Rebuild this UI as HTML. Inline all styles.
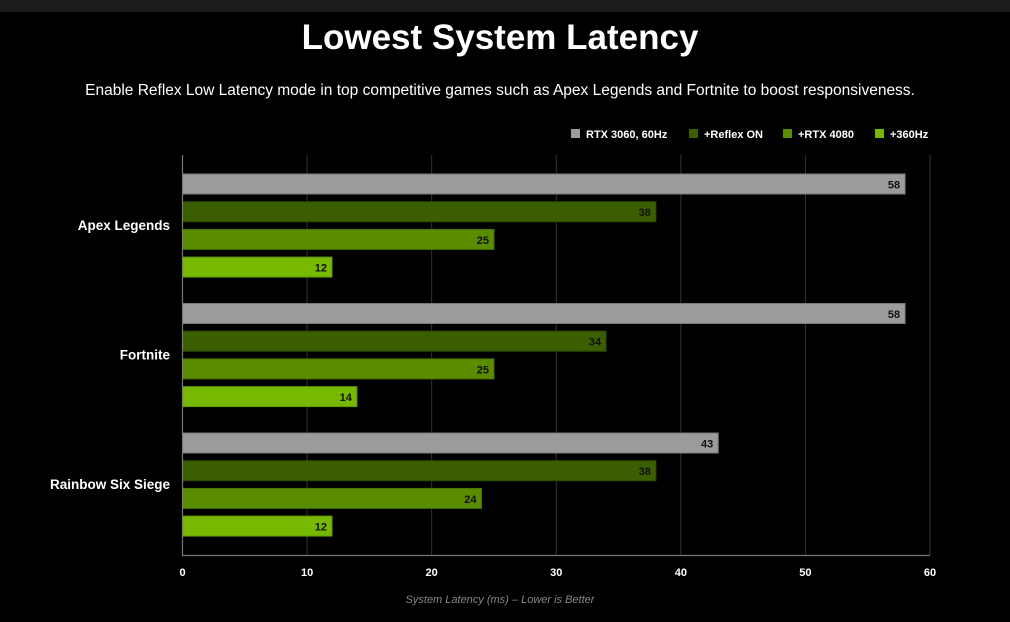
<!DOCTYPE html>
<html><head><meta charset="utf-8"><style>
body{margin:0;background:#000;width:1010px;height:617px;overflow:hidden;font-family:"Liberation Sans",sans-serif}
</style></head><body>
<svg width="1010" height="617" xmlns="http://www.w3.org/2000/svg" id="chart">
<rect x="0" y="0" width="1010" height="12" fill="#1c1c1c"/>
<text x="500" y="49" text-anchor="middle" fill="#fff" font-size="35" font-weight="bold">Lowest System Latency</text>
<text x="500" y="95" text-anchor="middle" fill="#fff" font-size="15.5">Enable Reflex Low Latency mode in top competitive games such as Apex Legends and Fortnite to boost responsiveness.</text>
<g id="legend"></g>
<g id="grid"></g>
<g id="bars"></g>
<g id="axes"></g>
<text x="500" y="603" text-anchor="middle" fill="#888" font-size="11" font-style="italic">System Latency (ms) – Lower is Better</text>
</svg>
<script>
const categories = ["Apex Legends","Fortnite","Rainbow Six Siege"];
const seriesNames = ["RTX 3060, 60Hz","+Reflex ON","+RTX 4080","+360Hz"];
const rtx3060 = [58,58,43];
const reflexOn = [38,34,38];
const rtx4080 = [25,25,24];
const hz360 = [12,14,12];
const xTicks = [0,10,20,30,40,50,60];
const series=[rtx3060,reflexOn,rtx4080,hz360];
const colors=["#9b9b9b","#3b5f00","#5a8c00","#76b900"];
const strokes=["#7a7a7a","#2e4a00","#4a7300","#5f9600"];
const NS="http://www.w3.org/2000/svg";
const x0=182.5,x1=930,xmax=60;
const X=v=>x0+(x1-x0)*v/xmax;
const groupTop=i=>174+129.5*i;
function mk(tag,attrs,parent,text){const e=document.createElementNS(NS,tag);for(const k in attrs)e.setAttribute(k,attrs[k]);if(text!==undefined)e.textContent=text;parent.appendChild(e);return e;}
const grid=document.getElementById('grid'),bars=document.getElementById('bars'),axes=document.getElementById('axes'),legend=document.getElementById('legend');
xTicks.forEach(t=>{
  if(t>0){const l=mk('line',{x1:X(t),x2:X(t),y1:155,y2:555,stroke:'#333','stroke-width':1},grid);
  
  }
  const tx=mk('text',{x:X(t),y:576,'text-anchor':'middle',fill:'#fff','font-size':11,'font-weight':'bold'},axes,t);
  
  
});
const ax=mk('path',{d:`M${x0} 155V555.5H${x1}`,stroke:'#777',fill:'none','stroke-width':1.2},axes);


categories.forEach((c,i)=>{
  const lab=mk('text',{x:170,y:groupTop(i)+56,'text-anchor':'end',fill:'#fff','font-size':13.5,'font-weight':'bold'},axes,c);
  
  
  series.forEach((s,j)=>{
    const y=groupTop(i)+27.7*j;
    const r=mk('rect',{x:x0,y:y,width:X(s[i])-x0,height:20,fill:colors[j],stroke:strokes[j],'stroke-width':1},bars);
    
    
    const v=mk('text',{x:X(s[i])-5,y:y+14.5,'text-anchor':'end',fill:'#111','font-size':11,'font-weight':'bold'},bars,s[i]);
    
    
  });
});
const legX=[571,689,783,875];
seriesNames.forEach((n,j)=>{
  const g=mk('g',{},legend);
  
  
  mk('rect',{x:legX[j],y:129,width:9,height:9,fill:colors[j]},g);
  mk('text',{x:legX[j]+15,y:138,fill:'#fff','font-size':11,'font-weight':'bold'},g,n);
});
</script>
</body></html>
